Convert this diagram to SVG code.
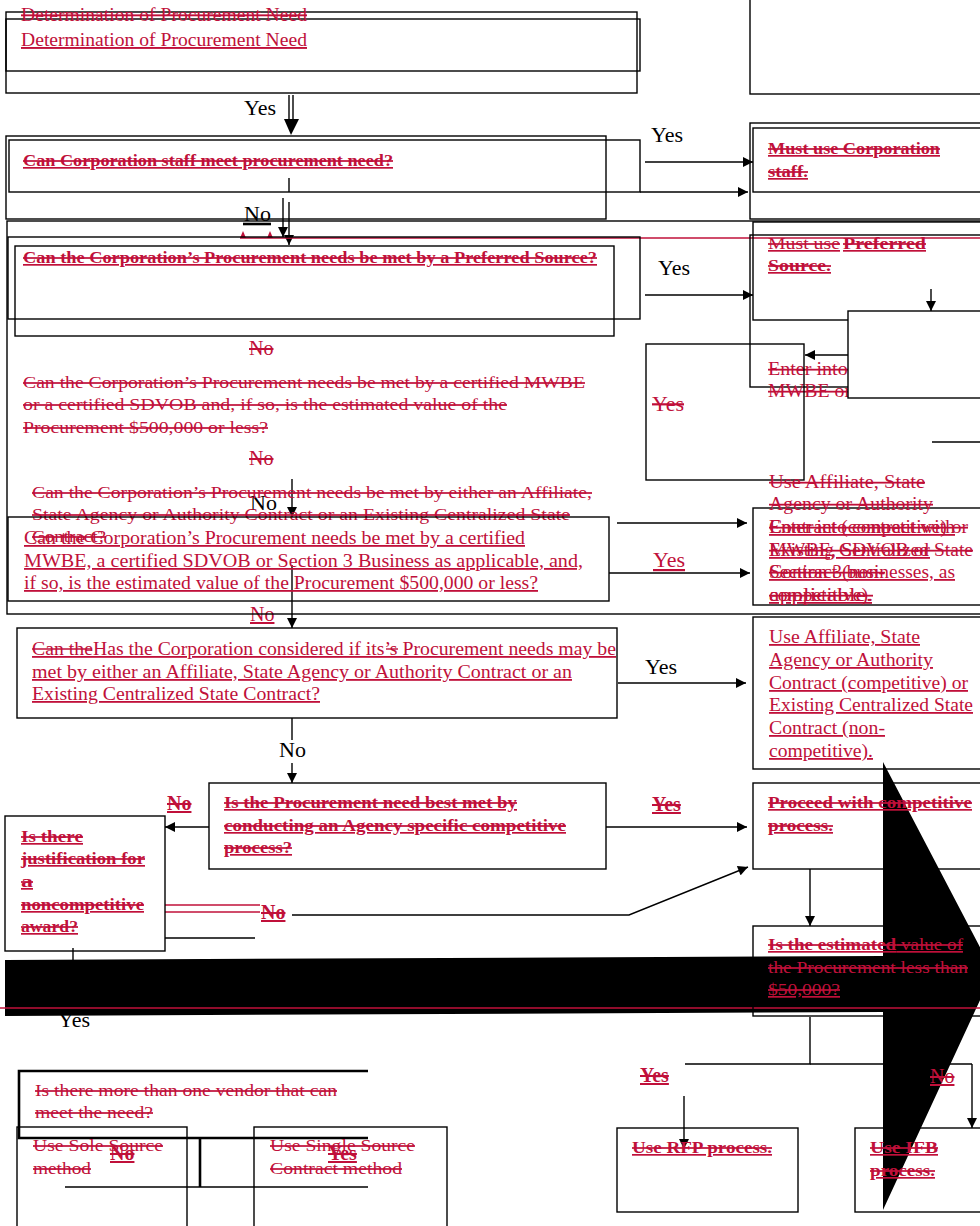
<svg xmlns="http://www.w3.org/2000/svg" width="980" height="1226" viewBox="0 0 980 1226">
<defs>
<style>
.r{fill:#c0103a;font-family:"Liberation Serif","Times New Roman",serif;font-size:17px}
.r18{fill:#c0103a;font-family:"Liberation Serif","Times New Roman",serif;font-size:18px}
.k{fill:#000;font-family:"Liberation Serif","Times New Roman",serif;font-size:22px}
.b{font-weight:bold;font-size:17px}
.s{text-decoration:line-through}
.u{text-decoration:underline}
.su{text-decoration:underline line-through}
.box{fill:none;stroke:#000;stroke-width:1.4}
.wbox{fill:#fff;stroke:#000;stroke-width:1.4}
.ln{fill:none;stroke:#000;stroke-width:1.4}
.thick{fill:none;stroke:#000;stroke-width:2.6}
.rl{fill:none;stroke:#c0103a;stroke-width:1.4}
</style>
<marker id="ah" viewBox="0 0 10 10" refX="10" refY="5" markerWidth="12" markerHeight="10" orient="auto" markerUnits="userSpaceOnUse"><path d="M0,0 L10,5 L0,10 z" fill="#000"/></marker>
</defs>
<rect width="980" height="1226" fill="#fff"/>

<!-- label partly hidden by the black arrow shape -->
<g id="label-yes-hidden"><text class="k" x="58" y="1027">Yes</text></g>

<g id="black-arrow"><polygon points="5,960 883,956 883,762 993,972 883,1210 883,1012 5,1016" fill="#000"/></g>

<g id="connectors">
<line class="ln" x1="289" y1="95" x2="289" y2="122"/>
<line class="ln" x1="293" y1="95" x2="293" y2="122"/>
<polygon points="284,119 299,119 291,135" fill="#000"/>
<line class="ln" x1="289" y1="178" x2="289" y2="192"/>
<line class="ln" x1="283" y1="198" x2="283" y2="237" marker-end="url(#ah)"/>
<line class="ln" x1="289" y1="202" x2="289" y2="245" marker-end="url(#ah)"/>
<line class="thick" x1="243" y1="224" x2="271" y2="224"/>
<line class="ln" x1="645" y1="162" x2="753" y2="162" marker-end="url(#ah)"/>
<line class="ln" x1="640" y1="192" x2="748" y2="192" marker-end="url(#ah)"/>
<line class="rl" x1="240" y1="238" x2="980" y2="238"/>
<polygon points="240,238 243,231 246,238" fill="#c0103a"/>
<polygon points="267,238 270,231 273,238" fill="#c0103a"/>
<line class="ln" x1="645" y1="295" x2="753" y2="295" marker-end="url(#ah)"/>
<line class="ln" x1="931" y1="289" x2="931" y2="311" marker-end="url(#ah)"/>
<line class="ln" x1="848" y1="355" x2="805" y2="355" marker-end="url(#ah)"/>
<line class="ln" x1="932" y1="442" x2="985" y2="442"/>
<line class="ln" x1="292" y1="479" x2="292" y2="517" marker-end="url(#ah)"/>
<line class="ln" x1="292" y1="565" x2="292" y2="628" marker-end="url(#ah)"/>
<line class="ln" x1="617" y1="523" x2="747" y2="523" marker-end="url(#ah)"/>
<line class="ln" x1="609" y1="573" x2="750" y2="573" marker-end="url(#ah)"/>
<line class="ln" x1="618" y1="683" x2="746" y2="683" marker-end="url(#ah)"/>
<line class="ln" x1="292" y1="718" x2="292" y2="740"/>
<line class="ln" x1="292" y1="763" x2="292" y2="783" marker-end="url(#ah)"/>
<line class="ln" x1="209" y1="827" x2="165" y2="827" marker-end="url(#ah)"/>
<line class="ln" x1="606" y1="827" x2="747" y2="827" marker-end="url(#ah)"/>
<line class="rl" x1="165" y1="905" x2="260" y2="905"/>
<line class="rl" x1="165" y1="912" x2="260" y2="912"/>
<polyline class="ln" points="292,915 629,915 748,867" marker-end="url(#ah)"/>
<line class="ln" x1="165" y1="938" x2="255" y2="938"/>
<line class="ln" x1="73" y1="948" x2="73" y2="960"/>
<line class="ln" x1="810" y1="869" x2="810" y2="926" marker-end="url(#ah)"/>
<polyline class="ln" points="810,1017 810,1064 685,1064"/>
<line class="ln" x1="810" y1="1064" x2="972" y2="1064"/>
<line class="ln" x1="972" y1="1064" x2="972" y2="1128" marker-end="url(#ah)"/>
<line class="ln" x1="684" y1="1096" x2="684" y2="1149" marker-end="url(#ah)"/>
<line class="thick" x1="200" y1="1139" x2="200" y2="1187"/>
<line class="ln" x1="65" y1="1187" x2="368" y2="1187"/>
<line class="rl" x1="0" y1="1008" x2="980" y2="1008"/>
</g>

<g id="labels">
<text class="k" x="244" y="115">Yes</text>
<text class="k" x="244" y="221">No</text>
<text class="k" x="651" y="142">Yes</text>
<text class="k" x="658" y="275">Yes</text>
<text class="k" x="250" y="510">No</text>
<text class="k" x="645" y="674">Yes</text>
<text class="k" x="279" y="757">No</text>
<text class="r s" x="249" y="355" style="font-size:20px">No</text>
<text class="r s" x="249" y="465" style="font-size:20px">No</text>
<text class="r s" x="652" y="411" style="font-size:22px">Yes</text>
<text class="r u" x="653" y="567" style="font-size:22px">Yes</text>
<text class="r u" x="250" y="621" style="font-size:20px">No</text>
<text class="r b su" x="167" y="810" style="font-size:20px">No</text>
<text class="r b su" x="652" y="811" style="font-size:20px">Yes</text>
<text class="r b su" x="261" y="919" style="font-size:20px">No</text>
<text class="r b su" x="640" y="1082" style="font-size:20px">Yes</text>
<text class="r su" x="930" y="1083" style="font-size:20px">No</text>
<text class="r b su" x="110" y="1160" style="font-size:20px">No</text>
<text class="r b su" x="328" y="1160" style="font-size:20px">Yes</text>
</g>

<g id="n-determination">
<rect class="box" x="6" y="12" width="631" height="81"/>
<rect class="box" x="6" y="19" width="634" height="52"/>
<text class="r s" x="21" y="21" style="font-size:19px" textLength="286" lengthAdjust="spacingAndGlyphs">Determination of Procurement Need</text>
<text class="r u" x="21" y="46" style="font-size:19px" textLength="286" lengthAdjust="spacingAndGlyphs">Determination of Procurement Need</text>
</g>

<g id="n-top-right"><rect class="box" x="750" y="-2" width="235" height="96"/></g>

<g id="n-staff-question">
<rect class="box" x="6" y="136" width="600" height="83"/>
<rect class="box" x="9" y="140" width="631" height="52"/>
<text class="r b su" x="23" y="166" textLength="370" lengthAdjust="spacingAndGlyphs">Can Corporation staff meet procurement need?</text>
</g>

<g id="n-staff-yes">
<rect class="box" x="750" y="123" width="235" height="96"/>
<rect class="box" x="753" y="128" width="232" height="64"/>
<text class="r b su" x="768" y="154" textLength="172" lengthAdjust="spacingAndGlyphs">Must use Corporation</text>
<text class="r b su" x="768" y="177" textLength="40" lengthAdjust="spacingAndGlyphs">staff.</text>
</g>

<g id="n-outer"><rect class="box" x="7" y="221" width="978" height="393"/></g>

<g id="n-preferred-question">
<rect class="box" x="8" y="237" width="632" height="82"/>
<rect class="box" x="15" y="246" width="599" height="90"/>
<text class="r b su" x="23" y="263" textLength="574" lengthAdjust="spacingAndGlyphs">Can the Corporation’s Procurement needs be met by a Preferred Source?</text>
</g>

<g id="n-preferred-yes">
<rect class="box" x="753" y="222" width="232" height="98"/>
<text class="r su" x="768" y="249" textLength="72" lengthAdjust="spacingAndGlyphs">Must use</text>
<text class="r b su" x="843" y="249" textLength="83" lengthAdjust="spacingAndGlyphs">Preferred</text>
<text class="r b su" x="768" y="271" textLength="63" lengthAdjust="spacingAndGlyphs">Source.</text>
</g>

<g id="n-mwbe-yes-old">
<rect class="box" x="750" y="235" width="235" height="152"/>
<text class="r18 s" x="768" y="375" textLength="190" lengthAdjust="spacingAndGlyphs">Enter into contract with</text>
<text class="r18 s" x="768" y="397" textLength="160" lengthAdjust="spacingAndGlyphs">MWBE or SDVOB.</text>
</g>

<g id="n-blank-right"><rect class="wbox" x="848" y="311" width="137" height="87"/></g>

<g id="n-blank-yes"><rect class="box" x="646" y="344" width="158" height="136"/></g>

<g id="n-mwbe-question-old">
<text class="r s" x="23" y="388" textLength="562" lengthAdjust="spacingAndGlyphs">Can the Corporation’s Procurement needs be met by a certified MWBE</text>
<text class="r s" x="23" y="410" textLength="484" lengthAdjust="spacingAndGlyphs">or a certified SDVOB and, if so, is the estimated value of the</text>
<text class="r s" x="23" y="433" textLength="245" lengthAdjust="spacingAndGlyphs">Procurement $500,000 or less?</text>
</g>

<g id="n-affiliate-question-old">
<text class="r s" x="32" y="498" textLength="560" lengthAdjust="spacingAndGlyphs">Can the Corporation’s Procurement needs be met by either an Affiliate,</text>
<text class="r s" x="32" y="520" textLength="538" lengthAdjust="spacingAndGlyphs">State Agency or Authority Contract or an Existing Centralized State</text>
<text class="r s" x="32" y="542" textLength="74" lengthAdjust="spacingAndGlyphs">Contract?</text>
</g>

<g id="n-mwbe-question">
<rect class="box" x="8" y="517" width="601" height="84"/>
<text class="r18 u" x="24" y="544" textLength="501" lengthAdjust="spacingAndGlyphs">Can the Corporation’s Procurement needs be met by a certified</text>
<text class="r18 u" x="24" y="567" textLength="559" lengthAdjust="spacingAndGlyphs">MWBE,  a certified SDVOB or Section 3 Business as applicable, and,</text>
<text class="r18 u" x="24" y="589" textLength="514" lengthAdjust="spacingAndGlyphs">if so, is the estimated value of the Procurement $500,000 or less?</text>
</g>

<g id="n-mwbe-yes">
<rect class="box" x="753" y="508" width="232" height="97"/>
<text class="r18 s" x="769" y="488" textLength="156" lengthAdjust="spacingAndGlyphs">Use Affiliate, State</text>
<text class="r18 s" x="769" y="510" textLength="164" lengthAdjust="spacingAndGlyphs">Agency or Authority</text>
<text class="r18 s" x="769" y="533" textLength="199" lengthAdjust="spacingAndGlyphs">Contract (competitive) or</text>
<text class="r18 s" x="769" y="556" textLength="204" lengthAdjust="spacingAndGlyphs">Existing Centralized State</text>
<text class="r18 s" x="769" y="578" textLength="116" lengthAdjust="spacingAndGlyphs">Contract (non-</text>
<text class="r18 s" x="769" y="601" textLength="104" lengthAdjust="spacingAndGlyphs">competitive).</text>
<text class="r18 u" x="769" y="533" textLength="186" lengthAdjust="spacingAndGlyphs">Enter into contract with</text>
<text class="r18 u" x="769" y="556" textLength="161" lengthAdjust="spacingAndGlyphs">MWBE, SDVOB or</text>
<text class="r18 u" x="769" y="578" textLength="186" lengthAdjust="spacingAndGlyphs">Section 3 businesses, as</text>
<text class="r18 u" x="769" y="601" textLength="103" lengthAdjust="spacingAndGlyphs">applicable.</text>
</g>

<g id="n-affiliate-question">
<rect class="box" x="17" y="628" width="600" height="90"/>
<text class="r18 u" x="32" y="655" textLength="584" lengthAdjust="spacingAndGlyphs">Can theHas the Corporation considered if its’s Procurement needs may be</text>
<line class="rl" x1="32" y1="649" x2="91" y2="649"/>
<line class="rl" x1="386" y1="649" x2="398" y2="649"/>
<text class="r18 u" x="32" y="678" textLength="540" lengthAdjust="spacingAndGlyphs">met by either an Affiliate, State Agency or Authority Contract or an</text>
<text class="r18 u" x="32" y="700" textLength="288" lengthAdjust="spacingAndGlyphs">Existing Centralized State Contract?</text>
</g>

<g id="n-affiliate-yes">
<rect class="box" x="753" y="617" width="232" height="152"/>
<text class="r18 u" x="769" y="643" textLength="151" lengthAdjust="spacingAndGlyphs">Use Affiliate, State</text>
<text class="r18 u" x="769" y="666" textLength="164" lengthAdjust="spacingAndGlyphs">Agency or Authority</text>
<text class="r18 u" x="769" y="689" textLength="199" lengthAdjust="spacingAndGlyphs">Contract (competitive) or</text>
<text class="r18 u" x="769" y="711" textLength="204" lengthAdjust="spacingAndGlyphs">Existing Centralized State</text>
<text class="r18 u" x="769" y="734" textLength="116" lengthAdjust="spacingAndGlyphs">Contract (non-</text>
<text class="r18 u" x="769" y="757" textLength="104" lengthAdjust="spacingAndGlyphs">competitive).</text>
</g>

<g id="n-agency-question">
<rect class="box" x="209" y="783" width="397" height="86"/>
<text class="r b su" x="224" y="808" textLength="293" lengthAdjust="spacingAndGlyphs">Is the Procurement need best met by</text>
<text class="r b su" x="224" y="831" textLength="342" lengthAdjust="spacingAndGlyphs">conducting an Agency specific competitive</text>
<text class="r b su" x="224" y="853" textLength="68" lengthAdjust="spacingAndGlyphs">process?</text>
</g>

<g id="n-justification-question">
<rect class="box" x="5" y="816" width="160" height="135"/>
<text class="r b su" x="21" y="842" textLength="62" lengthAdjust="spacingAndGlyphs">Is there </text>
<text class="r b su" x="21" y="864" textLength="124" lengthAdjust="spacingAndGlyphs">justification for</text>
<text class="r b su" x="21" y="887" textLength="12" lengthAdjust="spacingAndGlyphs">a </text>
<text class="r b su" x="21" y="910" textLength="123" lengthAdjust="spacingAndGlyphs">noncompetitive</text>
<text class="r b su" x="21" y="932" textLength="57" lengthAdjust="spacingAndGlyphs">award?</text>
</g>

<g id="n-competitive">
<rect class="box" x="753" y="783" width="232" height="86"/>
<text class="r b su" x="768" y="808" textLength="204" lengthAdjust="spacingAndGlyphs">Proceed with competitive</text>
<text class="r b su" x="768" y="831" textLength="65" lengthAdjust="spacingAndGlyphs">process.</text>
</g>

<g id="n-value-question">
<rect class="box" x="753" y="926" width="232" height="90"/>
<text class="r su" x="768" y="950" textLength="195" lengthAdjust="spacingAndGlyphs"><tspan font-weight="bold">Is the estimated</tspan> value of</text>
<text class="r s" x="768" y="973" textLength="200" lengthAdjust="spacingAndGlyphs">the Procurement less than</text>
<text class="r su" x="768" y="995" textLength="72" lengthAdjust="spacingAndGlyphs">$50,000?</text>
</g>

<g id="n-rfp">
<rect class="box" x="617" y="1128" width="181" height="84"/>
<text class="r b su" x="632" y="1153" textLength="140" lengthAdjust="spacingAndGlyphs">Use RFP process.</text>
</g>

<g id="n-ifb">
<rect class="box" x="855" y="1128" width="130" height="84"/>
<text class="r b su" x="870" y="1153" textLength="68" lengthAdjust="spacingAndGlyphs">Use IFB</text>
<text class="r b su" x="870" y="1176" textLength="65" lengthAdjust="spacingAndGlyphs">process.</text>
</g>

<g id="n-vendor-question">
<polyline class="thick" points="368,1071 19,1071 19,1138 368,1138"/>
<text class="r s" x="35" y="1096" textLength="302" lengthAdjust="spacingAndGlyphs">Is there more than one vendor that can</text>
<text class="r s" x="35" y="1118" textLength="118" lengthAdjust="spacingAndGlyphs">meet the need?</text>
</g>

<g id="n-sole-source">
<rect class="box" x="17" y="1127" width="170" height="110"/>
<text class="r s" x="33" y="1151" textLength="130" lengthAdjust="spacingAndGlyphs">Use Sole Source</text>
<text class="r s" x="33" y="1174" textLength="58" lengthAdjust="spacingAndGlyphs">method</text>
</g>

<g id="n-single-source">
<rect class="box" x="254" y="1127" width="193" height="110"/>
<text class="r s" x="270" y="1151" textLength="145" lengthAdjust="spacingAndGlyphs">Use Single Source</text>
<text class="r s" x="270" y="1174" textLength="132" lengthAdjust="spacingAndGlyphs">Contract method</text>
</g>
</svg>
